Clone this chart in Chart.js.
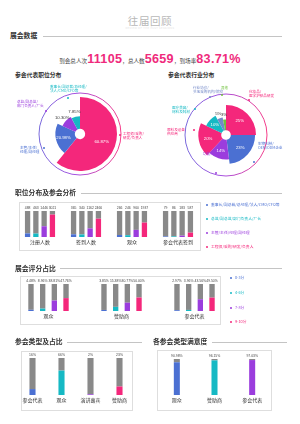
<!DOCTYPE html>
<html>
<head>
<meta charset="utf-8">
<script src="https://cdn.jsdelivr.net/npm/chart.js@4.4.0/dist/chart.umd.min.js"></script>
<style>
body { margin: 0; background: #fff; font-family: "Noto Sans CJK SC", "Noto Sans", sans-serif; }
#page { position: relative; width: 300px; height: 424px; overflow: hidden; }
.h { position: absolute; font-size: 6.8px; line-height: 7px; font-weight: bold; color: #333; white-space: nowrap; }
.sub { position: absolute; font-size: 5.8px; line-height: 6px; font-weight: bold; color: #333; white-space: nowrap; }
.rule { position: absolute; height: 0; border-top: 0.6px solid #c4c4c4; }
.box { position: absolute; border: 0.7px solid #dedede; box-sizing: border-box; }
.lbl { position: absolute; font-size: 3.6px; line-height: 4.4px; white-space: nowrap; }
.dot { position: absolute; width: 2px; height: 2px; border-radius: 1px; }
.leg { position: absolute; font-size: 3.8px; line-height: 4px; white-space: nowrap; }
canvas { position: absolute; }
#stats { position: absolute; left: 0; width: 300px; top: 43.5px; text-align: center; white-space: nowrap; color: #444; }
#stats .s { font-size: 5.6px; }
#stats .n { font-family: "Liberation Sans", Arial, sans-serif; font-weight: bold; font-size: 12.6px; color: #ef2a7c; letter-spacing: 0.3px; }
</style>
</head>
<body>
<div id="page">
  <div style="position:absolute;left:0;width:300px;top:15px;text-align:center;font-size:10.5px;line-height:11px;color:#b8b8b8;letter-spacing:0.6px;">往届回顾</div>
  <div style="position:absolute;left:0;width:300px;top:27px;text-align:center;font-size:2.6px;line-height:3px;color:#e4e4e4;letter-spacing:0.4px;">REVIEW OF THE PAST SESSIONS</div>

  <div class="h" style="left:10px;top:32px;">展会数据</div>
  <div class="rule" style="left:43px;width:239px;top:36px;"></div>
  <div id="stats"></div>

  <div class="sub" style="left:15px;top:72px;">参会代表职位分布</div>
  <div class="sub" style="left:168px;top:72px;">参会代表行业分布</div>
  <canvas id="jobRose" width="100" height="100" style="left:30px;top:84px;"></canvas>
  <canvas id="indRose" width="100" height="100" style="left:176px;top:85px;"></canvas>
  <div id="roseText"></div>

  <div class="h" style="left:15px;top:189px;">职位分布及参会分析</div>
  <div class="rule" style="left:81px;width:201px;top:192.5px;"></div>
  <div class="box" style="left:19px;top:202px;width:182px;height:49px;"></div>
  <canvas id="jobBars" width="184" height="45" style="left:17px;top:203px;"></canvas>
  <div id="jobLegend"></div>

  <div class="h" style="left:15px;top:264.5px;">展会评分占比</div>
  <div class="rule" style="left:60px;width:222px;top:268px;"></div>
  <div class="box" style="left:20px;top:276px;width:201px;height:49px;"></div>
  <canvas id="scoreBars" width="219" height="43" style="left:12px;top:279px;"></canvas>
  <div id="scoreLegend"></div>

  <div class="h" style="left:15px;top:338px;">参会类型及占比</div>
  <div class="rule" style="left:67px;width:75px;top:341.5px;"></div>
  <div class="box" style="left:21px;top:351px;width:112px;height:60px;"></div>
  <canvas id="typeBars" width="116" height="53" style="left:17.5px;top:353px;"></canvas>

  <div class="h" style="left:153px;top:338px;">各参会类型满意度</div>
  <div class="rule" style="left:212px;width:75px;top:341.5px;"></div>
  <div class="box" style="left:157px;top:350px;width:115px;height:61px;"></div>
  <canvas id="satBars" width="113" height="52" style="left:158px;top:354px;"></canvas>
</div>

<script>
// colours
const PINK = '#f4277b', BLUE = '#4b70d2', TEAL = '#16b9c4', PURPLE = '#9b3ddd', GREY = '#898989', GREEN = '#6fc13d', SLATE = '#7489c8'

// headline numbers
const statNames = ['到会总人次', '，总人数', '，到场率']
const statValues = ['11105', '5659', '83.71%']

// job position share (clockwise from top)
const jobNames = ['工程师/采购/\n研发/负责人', '主管/主任/\n经理/副经理', '总监/副总监/\n部门负责人/厂长', '董事长/副总裁/总经理/\n法人/CMO/CFO等']
const jobShare = [60.87, 20.98, 10.30, 7.85]
const jobShareText = ['60.87%', '20.98%', '10.30%', '7.85%']

// industry share (clockwise from top)
const indNames = ['化妆品/\n医学护肤品研发', '生物科技/\nOEM/ODM企业', '功能性原料', '原料及设备\n供应商', '医疗美容/\n材料及耗材', '行业协会/\n多地采购机构/院校', '其他']
const indShare = [25, 23, 14, 20, 10, 5, 3]
const indShareText = ['25%', '23%', '14%', '20%', '10%', '5%', '3%']

// position vs attendance
const attendCats = ['注册人数', '签到人数', '观众', '参会代表签到']
const levelNames = ['董事长/副总裁/总经理/法人/CMO/CFO等', '总监/副总监/部门负责人/厂长', '主管/主任/经理/副经理', '工程师/采购/研发/负责人']
const chairmanCount = [488, 365, 266, 79]
const directorCount = [463, 340, 246, 86]
const managerCount = [1446, 1162, 960, 183]
const engineerCount = [3021, 2466, 1937, 587]
const countTop = 3500

// rating share
const raterCats = ['观众', '赞助商', '参会代表']
const scoreNames = ['0-3分', '4-6分', '7-8分', '9-10分']
const score0to3 = [4.48, 3.85, 2.97]
const score4to6 = [8.96, 15.38, 3.96]
const score7to8 = [38.81, 30.77, 43.56]
const score9to10 = [47.76, 50.00, 49.50]

// attendee type share
const typeCats = ['参会代表', '观众', '演讲嘉宾', '赞助商']
const typeShare = [16, 66, 2, 23]

// satisfaction
const satCats = ['观众', '赞助商', '参会代表']
const satShare = [90.98, 96.15, 97.03]

// ---------- headline ----------
let statHtml = ''
statNames.forEach((n, i) => {
  statHtml += `<span class="s">${n}</span><span class="n">${statValues[i]}</span>`
})
document.getElementById('stats').innerHTML = statHtml

// ---------- rose charts ----------
const rosePlugin = {
  id: 'rose',
  beforeDatasetsDraw(chart, args, opts) {
    const meta = chart.getDatasetMeta(0)
    const vals = chart.data.datasets[0].data
    const top = Math.max(...vals)
    const ctx = chart.ctx
    const c = meta.data[0]
    // outer ring
    const g = ctx.createLinearGradient(c.x + opts.ring, c.y, c.x - opts.ring, c.y)
    g.addColorStop(0, PINK)
    g.addColorStop(0.55, PURPLE)
    g.addColorStop(1, '#6a5ad8')
    ctx.save()
    ctx.strokeStyle = g
    ctx.lineWidth = 0.9
    ctx.beginPath()
    ctx.arc(c.x, c.y, opts.ring, 0, Math.PI * 2)
    ctx.stroke()
    ctx.restore()
    meta.data.forEach((arc, i) => {
      arc.outerRadius = opts.inner + (opts.outer - opts.inner) * Math.sqrt(vals[i] / top)
    })
  },
  afterDatasetsDraw(chart, args, opts) {
    const meta = chart.getDatasetMeta(0)
    const vals = chart.data.datasets[0].data
    const ctx = chart.ctx
    ctx.save()
    ctx.font = '4.3px "Liberation Sans", sans-serif'
    ctx.textAlign = 'center'
    ctx.textBaseline = 'middle'
    meta.data.forEach((arc, i) => {
      const mid = (arc.startAngle + arc.endAngle) / 2
      let r
      if (vals[i] >= opts.insideMin) {
        r = (arc.innerRadius + arc.outerRadius) / 2 + 2
        ctx.fillStyle = '#fff'
      } else {
        r = arc.outerRadius + 5
        ctx.fillStyle = '#333'
      }
      ctx.fillText(opts.texts[i], arc.x + r * Math.cos(mid), arc.y + r * Math.sin(mid))
    })
    ctx.restore()
  }
}

function makeRose(id, values, colors, texts, outer, inner, ring, insideMin) {
  new Chart(document.getElementById(id), {
    type: 'doughnut',
    data: { datasets: [{ data: values, backgroundColor: colors, borderWidth: 0 }] },
    options: {
      responsive: false,
      animation: false,
      radius: outer,
      cutout: inner,
      plugins: {
        legend: { display: false },
        tooltip: { enabled: false },
        rose: { outer, inner, ring, insideMin, texts }
      }
    },
    plugins: [rosePlugin]
  })
}

makeRose('jobRose', jobShare, [PINK, BLUE, PURPLE, TEAL], jobShareText, 37, 7, 41, 15)
makeRose('indRose', indShare, [PINK, BLUE, PURPLE, PINK, TEAL, SLATE, GREEN], indShareText, 30, 8, 41, 10)

// labels round the rose charts
const roseLabels = [
  { t: jobNames[3], c: TEAL, x: 50, y: 85, dx: 68, dy: 97.5 },
  { t: jobNames[2], c: PURPLE, x: 17, y: 100, dx: 46, dy: 111 },
  { t: jobNames[1], c: BLUE, x: 20, y: 146, dx: 44, dy: 148 },
  { t: jobNames[0], c: PINK, x: 123, y: 132, dx: 120, dy: 135 },
  { t: indNames[5], c: SLATE, x: 193, y: 86, dx: 210, dy: 97 },
  { t: indNames[6], c: GREEN, x: 221, y: 86, dx: 222, dy: 95 },
  { t: indNames[0], c: PINK, x: 249, y: 90, dx: 249, dy: 100 },
  { t: indNames[4], c: TEAL, x: 172, y: 106, dx: 195, dy: 109 },
  { t: indNames[3], c: PINK, x: 167, y: 128, dx: 194, dy: 130 },
  { t: indNames[1], c: BLUE, x: 258, y: 142, dx: 254, dy: 162 },
  { t: indNames[2], c: PURPLE, x: 203, y: 152, dx: 216, dy: 173 }
]
let roseHtml = ''
roseLabels.forEach(l => {
  roseHtml += `<div class="lbl" style="left:${l.x}px;top:${l.y}px;color:${l.c}">${l.t.replace('\n', '<br>')}</div>`
  roseHtml += `<div class="dot" style="left:${l.dx - 1}px;top:${l.dy - 1}px;background:${l.c}"></div>`
})
document.getElementById('roseText').innerHTML = roseHtml

// ---------- stacked bar charts ----------
const tagPlugin = {
  id: 'tags',
  afterDatasetsDraw(chart, args, opts) {
    const ctx = chart.ctx
    ctx.save()
    ctx.font = '3.4px "Liberation Sans", sans-serif'
    ctx.fillStyle = '#444'
    ctx.textAlign = 'center'
    ctx.textBaseline = 'bottom'
    opts.texts.forEach((row, s) => {
      const greyMeta = chart.getDatasetMeta(s * 2 + 1)
      row.forEach((txt, j) => {
        const el = greyMeta.data[j]
        ctx.fillText(txt, el.x, el.y - 1)
      })
    })
    ctx.restore()
  }
}

function makeBars(id, cats, series, colors, top, texts, catPct, barPct, padTop) {
  const datasets = []
  series.forEach((vals, i) => {
    datasets.push({ data: vals, backgroundColor: colors[i], stack: 's' + i })
    datasets.push({ data: vals.map(v => top - v), backgroundColor: GREY, stack: 's' + i })
  })
  new Chart(document.getElementById(id), {
    type: 'bar',
    data: { labels: cats, datasets },
    options: {
      responsive: false,
      animation: false,
      categoryPercentage: catPct,
      barPercentage: barPct,
      layout: { padding: { top: padTop, bottom: 1, left: 0, right: 0 } },
      plugins: { legend: { display: false }, tooltip: { enabled: false }, tags: { texts } },
      scales: {
        x: {
          stacked: true,
          grid: { display: false, drawTicks: false },
          border: { display: false },
          ticks: { font: { size: 5, family: '"Noto Sans CJK SC"' }, color: '#333', padding: 2, maxRotation: 0, autoSkip: false }
        },
        y: { stacked: true, display: false, min: 0, max: top }
      }
    },
    plugins: [tagPlugin]
  })
}

const countSeries = [chairmanCount, directorCount, managerCount, engineerCount]
makeBars('jobBars', attendCats, countSeries, [BLUE, TEAL, PURPLE, PINK], countTop,
  countSeries.map(r => r.map(v => String(v))), 0.72, 0.64, 8)

const scoreSeries = [score0to3, score4to6, score7to8, score9to10]
makeBars('scoreBars', raterCats, scoreSeries, [BLUE, TEAL, PURPLE, PINK], 100,
  scoreSeries.map(r => r.map(v => v.toFixed(2) + '%')), 0.64, 0.46, 5)

makeBars('typeBars', typeCats, [typeShare], [[BLUE, TEAL, PURPLE, PINK]], 100,
  [typeShare.map(v => v + '%')], 0.21, 1, 5)

makeBars('satBars', satCats, [satShare], [[BLUE, TEAL, PURPLE]], 100,
  [satShare.map(v => v.toFixed(2) + '%')], 0.16, 1, 5)

// ---------- legends ----------
function makeLegend(id, names, colors, x, ys) {
  let html = ''
  names.forEach((n, i) => {
    html += `<div class="dot" style="left:${x - 1}px;top:${ys[i] - 1}px;background:${colors[i]}"></div>`
    html += `<div class="leg" style="left:${x + 4}px;top:${ys[i] - 2}px;color:${colors[i]}">${n}</div>`
  })
  document.getElementById(id).innerHTML = html
}
makeLegend('jobLegend', levelNames, [BLUE, TEAL, PURPLE, PINK], 207, [205, 219, 233, 247])
makeLegend('scoreLegend', scoreNames, [BLUE, TEAL, PURPLE, PINK], 231, [278, 293, 308, 322])
</script>
</body>
</html>
